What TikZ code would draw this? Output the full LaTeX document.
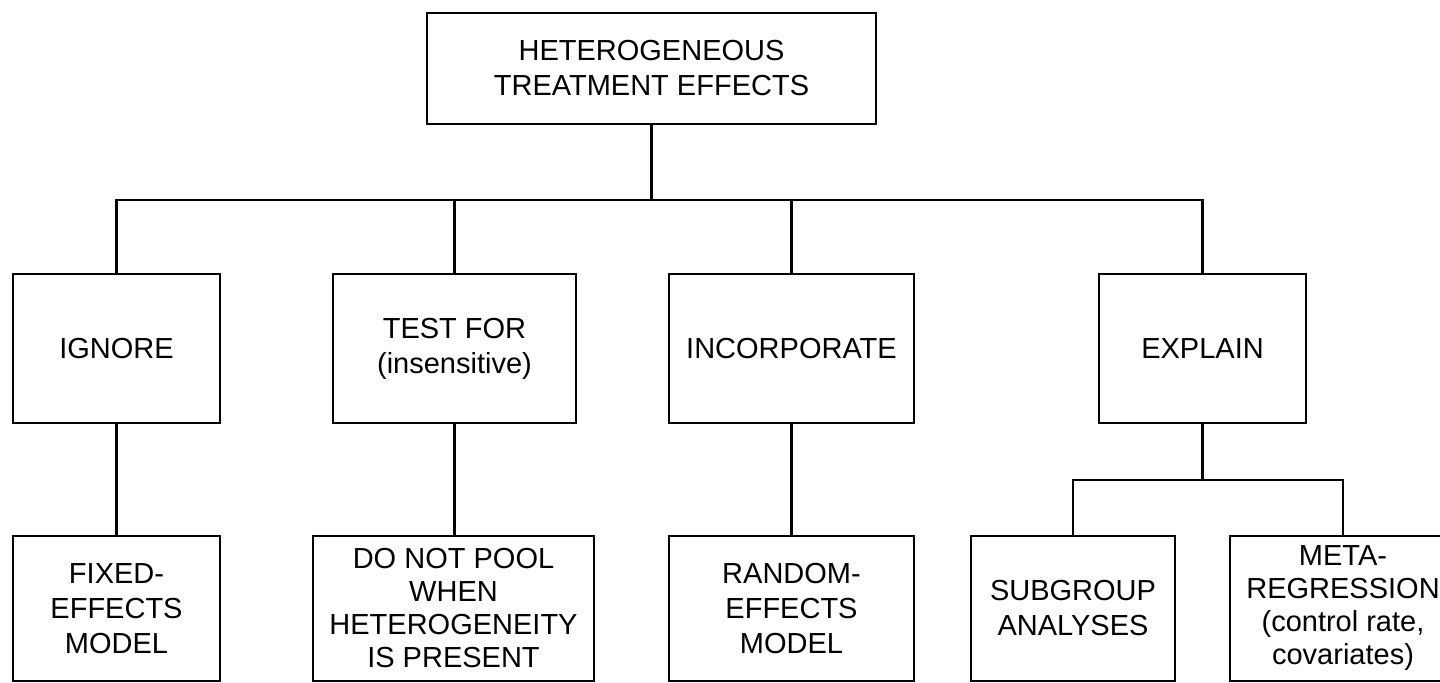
\documentclass[tikz,border=0pt]{standalone}
\usepackage{fontspec}
\setmainfont{Liberation Sans}
\usetikzlibrary{positioning}

\begin{document}
\begin{tikzpicture}[x=0.5pt,y=-0.5pt,
  box/.style={draw,line width=1.3pt,align=center,inner sep=0pt,
    font=\fontsize{14.5}{17.5}\selectfont},
  tight/.style={font=\fontsize{14.5}{16.5}\selectfont},
  top/.style={box,minimum width=224.5pt,minimum height=55.5pt},
  choice/.style={box,minimum height=74.5pt},
  method/.style={box,minimum height=72.5pt},
  link/.style={line width=1.3pt}]
\useasboundingbox (0,0) rectangle (1440,683);
\node[top] (hte) at (651.5,68.5) {HETEROGENEOUS\\TREATMENT EFFECTS};
\node[choice, minimum width=103.5pt] (ignore) at (116.5,348.5) {IGNORE};
\node[choice, minimum width=121.5pt] (test) at (454.5,348.5) {TEST FOR\\(insensitive)};
\node[choice, minimum width=122.5pt] (incorp) at (791.5,348.5) {INCORPORATE};
\node[choice, minimum width=103.5pt] (explain) at (1202.5,348.5) {EXPLAIN};
\node[method, minimum width=103.5pt] (fixed) at (116.5,608.5) {FIXED-\\EFFECTS\\MODEL};
\node[method, tight, minimum width=140.5pt] (nopool) at (453.5,608.5) {DO NOT POOL\\WHEN\\HETEROGENEITY\\IS PRESENT};
\node[method, minimum width=122.5pt] (random) at (791.5,608.5) {RANDOM-\\EFFECTS\\MODEL};
\node[method, minimum width=102pt] (subgroup) at (1073,608.5) {SUBGROUP\\ANALYSES};
\node[method, tight, minimum width=113pt] (metareg) at (1343,608.5) {META-\\REGRESSION\\(control rate,\\covariates)};
\coordinate (split) at (651.5,200);
\coordinate (subsplit) at (1202.5,480);
\draw[link] (hte.south) -- (split);
\draw[link] (ignore.north) |- (split) -| (explain.north);
\draw[link] (test.north) -- (test.north |- split);
\draw[link] (incorp.north) -- (incorp.north |- split);
\draw[link] (ignore.south) -- (fixed.north);
\draw[link] (test.south) -- (test.south |- nopool.north);
\draw[link] (incorp.south) -- (random.north);
\draw[link] (explain.south) -- (subsplit);
\draw[link] (subgroup.north) |- (subsplit) -| (metareg.north);
\end{tikzpicture}
\end{document}
